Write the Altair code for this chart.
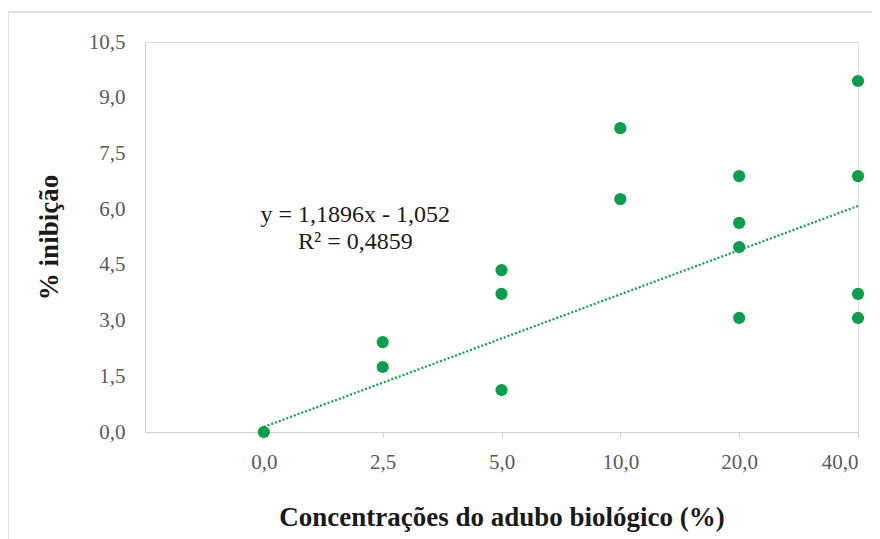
import altair as alt
import pandas as pd

# ---- data ----
categorias = ["0,0", "2,5", "5,0", "10,0", "20,0", "40,0"]
posicao = [1, 2, 2, 3, 3, 3, 4, 4, 5, 5, 5, 5, 6, 6, 6, 6]
inibicao = [0.0, 2.42, 1.75, 4.36, 3.72, 1.13, 8.18, 6.27,
            6.89, 5.63, 4.98, 3.07, 9.45, 6.89, 3.72, 3.07]
coef_a = 1.1896
coef_b = -1.052
eq_texto = ["y = 1,1896x - 1,052", "R² = 0,4859"]
eq_pos = [1.77, 5.85]
y_ticks = [0, 1.5, 3.0, 4.5, 6.0, 7.5, 9.0, 10.5]

pontos = pd.DataFrame({"x": posicao, "y": inibicao,
                       "conc": [categorias[p - 1] for p in posicao]})
tend_x = [1, 6]
tendencia = pd.DataFrame({"x": tend_x, "y": [coef_a * v + coef_b for v in tend_x]})
eq = pd.DataFrame({"x": [eq_pos[0]], "y": [eq_pos[1]]})

W, H = 713, 390
GREEN = "#0c9e4b"
FONT = "Liberation Serif"

label_arr = "[" + ",".join("'%s'" % c for c in categorias) + "]"

xscale = alt.Scale(domain=[0, 6], nice=False, zero=False)
yscale = alt.Scale(domain=[0, 10.5], nice=False)

xaxis = alt.Axis(values=list(range(1, 7)), labelExpr=label_arr + "[datum.value - 1]",
                 title="Concentrações do adubo biológico (%)",
                 grid=False, domainColor="#d0d0d0", tickColor="#d0d0d0", tickSize=5,
                 labelFont=FONT, labelFontSize=21, labelColor="#595959", labelPadding=14,
                 titleFont=FONT, titleFontSize=27, titleFontWeight="bold",
                 titleColor="#1a1a1a", titlePadding=32)
yaxis = alt.Axis(values=y_ticks, format=".1f",
                 labelExpr="replace(datum.label, '.', ',')",
                 title="% inibição", grid=False, domainColor="#d0d0d0", ticks=False,
                 labelFont=FONT, labelFontSize=21, labelColor="#595959", labelPadding=20,
                 titleFont=FONT, titleFontSize=27, titleFontWeight="bold",
                 titleColor="#1a1a1a", titlePadding=25)

base_pts = alt.Chart(pontos).mark_circle(size=150, color=GREEN, opacity=1).encode(
    x=alt.X("x:Q", scale=xscale, axis=xaxis),
    y=alt.Y("y:Q", scale=yscale, axis=yaxis),
    tooltip=["conc", "y"],
)

linha = alt.Chart(tendencia).mark_line(color=GREEN, strokeDash=[2, 2], strokeWidth=2.2).encode(
    x=alt.X("x:Q", scale=xscale), y=alt.Y("y:Q", scale=yscale)
)

texto = alt.Chart(eq).mark_text(font=FONT, fontSize=24, color="#1a1a1a",
                                lineHeight=27, baseline="middle", align="center").encode(
    x=alt.X("x:Q", scale=xscale), y=alt.Y("y:Q", scale=yscale), text=alt.value(eq_texto)
)

borda = alt.Chart(eq).mark_rect(fill=None, stroke="#d9d9d9", strokeWidth=1.5).encode(
    x=alt.value(-137), x2=alt.value(760), y=alt.value(-30), y2=alt.value(520)
)

chart = alt.layer(borda, linha, base_pts, texto).properties(
    width=W, height=H,
    autosize=alt.AutoSizeParams(type="none"),
    padding={"left": 137, "top": 34, "right": 14, "bottom": 107},
).configure_view(stroke=None).configure(background="white")

chart.save("out.html", embed_options={"renderer": "svg", "actions": False})
